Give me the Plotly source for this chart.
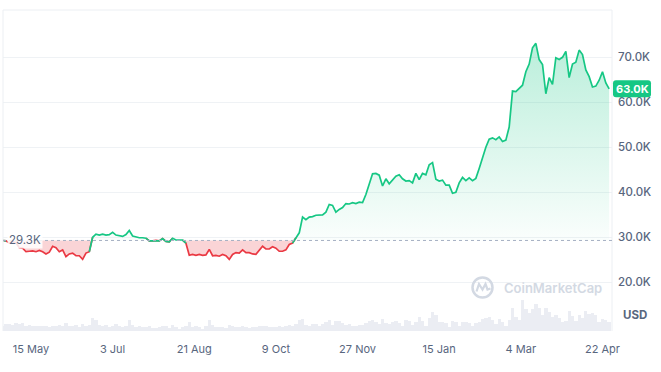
import numpy as np
import pandas as pd
import plotly.graph_objects as go

# ---------------- data ----------------
start_date = "2023-04-28"          # one point every 2 days
prices_k = [
    29.3, 29.2, 28.7, 29.0, 28.8, 27.7, 27.6, 26.8, 26.9, 27.0, 26.8, 27.1, 26.8, 26.3, 26.7, 28.0, 27.7,
    26.8, 27.2, 25.7, 26.3, 26.5, 25.9, 25.9, 25.1, 26.5, 26.8,
    30.0, 30.7, 30.5, 30.7, 30.5, 30.6,
    31.1, 30.5, 30.3, 30.2, 30.6, 31.5, 30.3, 30.1, 29.9, 29.9, 29.8, 29.2, 29.2, 29.3, 29.2,
    29.7, 29.1, 29.0, 29.8, 29.4, 29.4, 29.4, 28.7,
    26.0, 26.2, 26.0, 26.2, 26.0, 26.1, 27.3,
    25.9, 26.0, 25.8, 26.2, 25.9, 25.1, 26.2, 26.6, 26.5, 27.2, 26.6, 26.6, 26.3, 26.2, 27.0,
    28.0, 27.4, 27.4, 27.9, 27.6, 26.9, 26.9, 27.2, 28.4, 28.7, 29.9, 31.0,
    34.5, 33.9, 34.5, 34.6, 34.9, 35.0, 35.0, 35.6, 37.3, 37.1, 35.6, 36.2, 36.6, 37.5, 37.4, 37.7, 37.5, 37.8, 37.7,
    39.5, 41.9, 44.1, 44.2, 43.8, 41.4, 43.0, 41.9, 42.7, 43.6, 43.9, 43.0, 42.5, 42.6, 42.1,
    44.2, 42.8, 44.2, 43.9, 46.1, 46.6, 42.9, 42.5, 42.7, 41.6, 41.6, 39.8, 40.0, 42.1, 43.3, 42.6,
    43.2, 42.6, 43.1, 45.3, 47.8, 50.0, 51.8, 52.1, 51.7, 52.3, 51.3, 51.6, 54.5,
    62.5, 62.4, 63.1, 63.8, 66.8, 68.5, 72.1, 73.1, 69.5, 68.4, 61.9, 65.5, 64.0, 69.9, 69.5, 70.0, 71.3,
    65.5, 68.5, 68.9, 71.6, 70.6, 67.2, 65.7, 63.4, 63.6, 64.9, 66.8, 64.3, 63.0,
]
volumes_b = [
    14, 17, 18, 16, 20, 19, 21, 12, 15, 14, 13, 12, 13, 14, 11, 13, 14,
    15, 12, 20, 14, 12, 16, 11, 19, 12, 15,
    32, 28, 15, 14, 16, 11,
    14, 17, 12, 9, 14, 28, 15, 10, 12, 9, 11, 13, 8, 7, 10,
    14, 13, 7, 15, 11, 6, 10, 14,
    24, 10, 12, 11, 6, 12, 27,
    15, 9, 10, 11, 7, 16, 12, 11, 9, 13, 10, 8, 11, 10, 12,
    14, 14, 11, 9, 10, 12, 9, 12, 15, 13, 18, 28,
    30, 16, 13, 17, 18, 12, 17, 22, 28, 16, 26, 25, 20, 15, 19, 13, 12, 16, 15,
    20, 26, 28, 22, 18, 30, 21, 17, 22, 25, 20, 14, 27, 25, 16,
    22, 37, 25, 14, 32, 48, 40, 22, 22, 20, 11, 25, 24, 14, 22, 24,
    21, 14, 20, 22, 30, 32, 36, 28, 18, 30, 24, 14, 27,
    60, 35, 28, 80, 55, 45, 55, 70, 60, 42, 60, 48, 35, 40, 32, 22, 25,
    50, 38, 25, 40, 32, 50, 44, 46, 40, 24, 30, 28, 22,
]
base_k = 29.3
last_label = "63.0K"
x_tick_dates = ["2023-05-15", "2023-07-03", "2023-08-21", "2023-10-09",
                "2023-11-27", "2024-01-15", "2024-03-04", "2024-04-22"]
x_tick_labels = ["15 May", "3 Jul", "21 Aug", "9 Oct", "27 Nov", "15 Jan", "4 Mar", "22 Apr"]
y_ticks_k = [20, 30, 40, 50, 60, 70]
y_tick_labels = ["20.0K", "30.0K", "40.0K", "50.0K", "60.0K", "70.0K"]

assert len(prices_k) == len(volumes_b)

# ---------------- derived ----------------
dates = pd.date_range(start_date, periods=len(prices_k), freq="2D")
p = np.array(prices_k) * 1000.0
base = base_k * 1000.0
n = len(p)
above = p >= base
below = ~above

def seg_mask(m):
    out = m.copy()
    out[1:] |= m[:-1]
    out[:-1] |= m[1:]
    return out

green_y = np.where(seg_mask(above), p, np.nan)
red_y = np.where(seg_mask(below), p, np.nan)
base_arr = np.full(n, base)

GREEN = "#16c784"
RED = "#ea3943"
GREY = "#58667e"

fig = go.Figure()
# green fill
fig.add_trace(go.Scatter(x=dates, y=base_arr, mode="lines", line=dict(width=0),
                         hoverinfo="skip", showlegend=False))
fig.add_trace(go.Scatter(x=dates, y=np.maximum(p, base), mode="lines", line=dict(width=0),
                         fill="tonexty",
                         fillgradient=dict(type="vertical",
                                           colorscale=[[0, "rgba(22,199,132,0.02)"],
                                                       [1, "rgba(22,199,132,0.30)"]],
                                           start=base, stop=74000),
                         hoverinfo="skip", showlegend=False))
# red fill
fig.add_trace(go.Scatter(x=dates, y=base_arr, mode="lines", line=dict(width=0),
                         hoverinfo="skip", showlegend=False))
fig.add_trace(go.Scatter(x=dates, y=np.minimum(p, base), mode="lines", line=dict(width=0),
                         fill="tonexty", fillcolor="rgba(234,57,67,0.22)",
                         hoverinfo="skip", showlegend=False))
# lines
fig.add_trace(go.Scatter(x=dates, y=red_y, mode="lines", line=dict(color=RED, width=1.7),
                         connectgaps=False, showlegend=False))
fig.add_trace(go.Scatter(x=dates, y=green_y, mode="lines", line=dict(color=GREEN, width=1.7),
                         connectgaps=False, showlegend=False))
# volume
fig.add_trace(go.Bar(x=dates, y=volumes_b, yaxis="y2",
                     marker=dict(color="rgba(210,216,228,0.45)", line=dict(width=0)),
                     showlegend=False, hoverinfo="skip"))

fig.update_layout(
    width=661, height=372,
    margin=dict(l=3, r=49, t=10, b=41),
    paper_bgcolor="white", plot_bgcolor="white",
    font=dict(family="Inter", color=GREY),
    bargap=0,
    xaxis=dict(type="date", range=["2023-04-28 05:00", "2024-04-27 17:00"],
               tickvals=x_tick_dates, ticktext=x_tick_labels,
               showgrid=False, zeroline=False, showline=False, ticks="",
               tickfont=dict(size=11, color=GREY), ticklabelstandoff=10),
    yaxis=dict(side="right", range=[9180, 80510],
               tickvals=[v * 1000 for v in y_ticks_k], ticktext=y_tick_labels,
               showgrid=True, gridcolor="#eff2f5", gridwidth=1,
               zeroline=False, showline=False, ticks="",
               tickfont=dict(size=11.5, color=GREY, weight=500), ticklabelstandoff=5),
    yaxis2=dict(overlaying="y", range=[0, 820], visible=False),
)

frame_c = "#eceff3"
fig.add_shape(type="line", xref="paper", yref="paper", x0=0, x1=1, y0=1, y1=1,
              line=dict(color=frame_c, width=1))
fig.add_shape(type="line", xref="paper", yref="paper", x0=0, x1=0, y0=0, y1=1,
              line=dict(color=frame_c, width=1))
fig.add_shape(type="line", xref="paper", yref="paper", x0=1, x1=1, y0=0, y1=1,
              line=dict(color=frame_c, width=1))
# baseline
fig.add_shape(type="line", xref="paper", yref="y", x0=0, x1=1, y0=base, y1=base,
              line=dict(color="#a6b0c3", width=1, dash="dot"))
fig.add_annotation(xref="paper", yref="y", x=0.006, y=base, xanchor="left", yanchor="middle",
                   text="29.3K", showarrow=False, font=dict(size=11.5, color=GREY),
                   bgcolor="rgba(255,255,255,0.85)", borderpad=1)

# last price badge
fig.add_shape(type="path", xref="paper", yref="y", xsizemode="pixel", ysizemode="pixel",
              xanchor=1, yanchor=p[-1],
              path="M 4 -8.5 L 36 -8.5 Q 39 -8.5 39 -5.5 L 39 5.5 Q 39 8.5 36 8.5 "
                   "L 4 8.5 Q 1 8.5 1 5.5 L 1 -5.5 Q 1 -8.5 4 -8.5 Z",
              fillcolor=GREEN, line=dict(width=0), layer="above")
fig.add_annotation(xref="paper", yref="y", x=1, y=p[-1], xanchor="center", xshift=20,
                   text="<b>" + last_label + "</b>", showarrow=False,
                   font=dict(size=11, color="white"))

# USD label
fig.add_annotation(xref="paper", yref="paper", x=1, y=(331 - 315) / 321, xanchor="left",
                   xshift=9, yanchor="middle", text="<b>USD</b>", showarrow=False,
                   font=dict(size=11.5, color=GREY))

# watermark
wm = "#d3d9e3"
fig.add_shape(type="circle", xref="paper", yref="paper", xsizemode="pixel", ysizemode="pixel",
              xanchor=(482.5 - 3) / 609, yanchor=(331 - 287.5) / 321,
              x0=-10, x1=10, y0=-10, y1=10, line=dict(color=wm, width=2.5))
fig.add_shape(type="path", xref="paper", yref="paper", xsizemode="pixel", ysizemode="pixel",
              xanchor=(482.5 - 3) / 609, yanchor=(331 - 287.5) / 321,
              path="M -6 -4 L -3.5 3.5 L 0 -2 L 3 3.5 L 5 -2 L 8 -1",
              line=dict(color=wm, width=2.2))
fig.add_annotation(xref="paper", yref="paper", x=(502 - 3) / 609, y=(331 - 287.5) / 321,
                   xanchor="left", yanchor="middle", text="CoinMarketCap", showarrow=False,
                   font=dict(size=13, color=wm, weight=600))

fig.write_html("out.html", config={"displayModeBar": False},
               post_script="document.body.style.margin='0';document.body.style.overflow='hidden';")
